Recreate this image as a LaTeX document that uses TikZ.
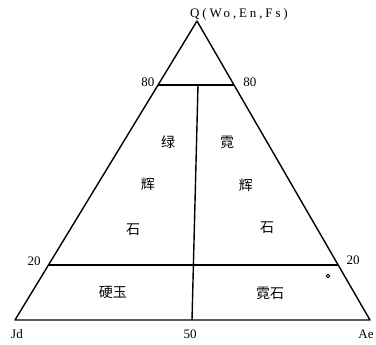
\documentclass[tikz,border=0pt]{standalone}
\usepackage{fontspec}
\setmainfont{Liberation Serif}
\newfontfamily\cjk{Noto Sans CJK SC}
\begin{document}
\begin{tikzpicture}[x=1pt,y=-1pt,
  edge/.style={line width=1.4pt, line join=round},
  lab/.style={font=\fontsize{13}{13}\selectfont, inner sep=0pt},
  zh/.style={font=\cjk\fontsize{14}{14}\selectfont, inner sep=0pt}]
\useasboundingbox (0,0) rectangle (376,345);
\coordinate (Q) at (197,21);
\coordinate (A) at (15,320);
\coordinate (C) at (370,320);
\coordinate (L80) at (158,85);
\coordinate (R80) at (234,85);
\coordinate (L20) at (48,265);
\coordinate (R20) at (338,265);
\coordinate (T50) at (198,85);
\coordinate (B50) at (192,320);
\draw[edge] (A) -- (Q) -- (C) -- cycle;
\draw[edge] (L80) -- (R80);
\draw[edge] (L20) -- (R20);
\draw[edge] (T50) -- (B50);
% vertex and scale labels
\node[lab, anchor=west] (qlab) at (190,14) {\addfontfeature{LetterSpace=22}Q(Wo,En,Fs)};
\node[lab] (l80) at (148,82) {80};
\node[lab] (r80) at (250,82) {80};
\node[lab] (l20) at (34,261) {20};
\node[lab] (r20) at (353,260) {20};
\node[lab] (jd) at (17,334) {Jd};
\node[lab] (f50) at (190,334) {50};
\node[lab] (ae) at (366,334) {Ae};
% field names
\node[zh] (z1) at (168,142) {绿};
\node[zh] (z2) at (148,184) {辉};
\node[zh] (z3) at (133,230) {石};
\node[zh] (y1) at (227,142) {霓};
\node[zh] (y2) at (246,185) {辉};
\node[zh] (y3) at (267,228) {石};
\node[zh] (jade) at (113,293) {硬玉};
\node[zh] (aeg) at (270,293) {霓石};
\node[circle, draw, line width=0.9pt, inner sep=0pt, minimum size=3.5pt] (pt) at (328,276) {};
\end{tikzpicture}
\end{document}
